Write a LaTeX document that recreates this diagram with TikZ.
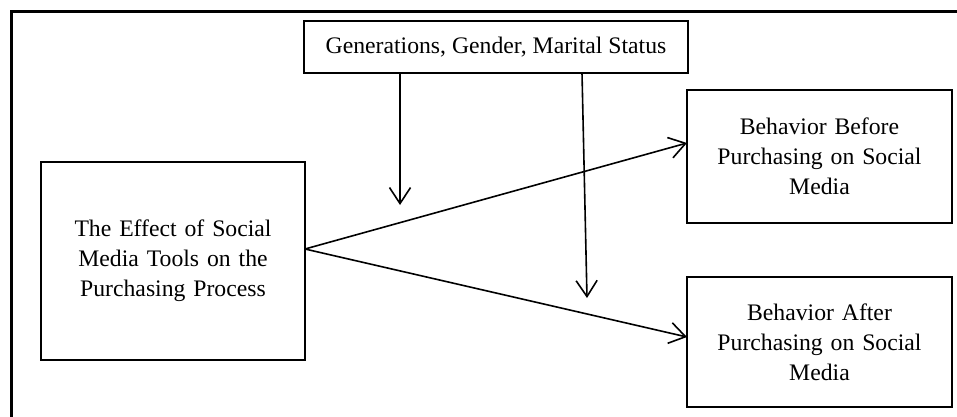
\documentclass[tikz,border=0pt]{standalone}
\usepackage{fontspec}
\setmainfont{Liberation Serif}
\usetikzlibrary{arrows.meta}
\begin{document}
\begin{tikzpicture}[x=1pt,y=-1pt,
  box/.style={draw, line width=1.6pt, inner sep=0pt, outer sep=0pt, align=center,
    font=\fontsize{23.7}{30}\selectfont},
  arr/.style={line width=1.6pt, -{Straight Barb[length=16pt,width=21pt,line width=1.6pt]}},
  frame/.style={line width=3pt}]
\useasboundingbox (0,0) rectangle (957,416);
\clip (0,0) rectangle (957,416);
\fill[white] (0,0) rectangle (957,416);
\draw[frame] (11,11) rectangle (975,435);
\node[box, minimum width=384pt, minimum height=52pt] (T) at (496,47) {Generations, Gender, Marital Status};
\node[box, minimum width=264pt, minimum height=198pt, text width=240pt] (L) at (173,261) {The Effect of Social\\Media Tools on the\\Purchasing Process};
\node[box, minimum width=265pt, minimum height=133pt, text width=250pt] (B1) at (819.5,156.5) {Behavior Before\\Purchasing on Social\\Media};
\node[box, minimum width=265pt, minimum height=130pt, text width=250pt] (B2) at (819.5,342) {Behavior After\\Purchasing on Social\\Media};
\coordinate (s) at (305,249);
\coordinate (t1) at (688,143);
\coordinate (t2) at (688,337);
\coordinate (v1) at (400,205);
\coordinate (v2top) at (582,73);
\coordinate (v2) at (587,298);
\draw[arr] (L.east |- s) -- (B1.west |- t1);
\draw[arr] (L.east |- s) -- (B2.west |- t2);
\draw[arr] (T.south -| v1) -- (v1);
\draw[arr] (T.south -| v2top) -- (v2);
\end{tikzpicture}
\end{document}
